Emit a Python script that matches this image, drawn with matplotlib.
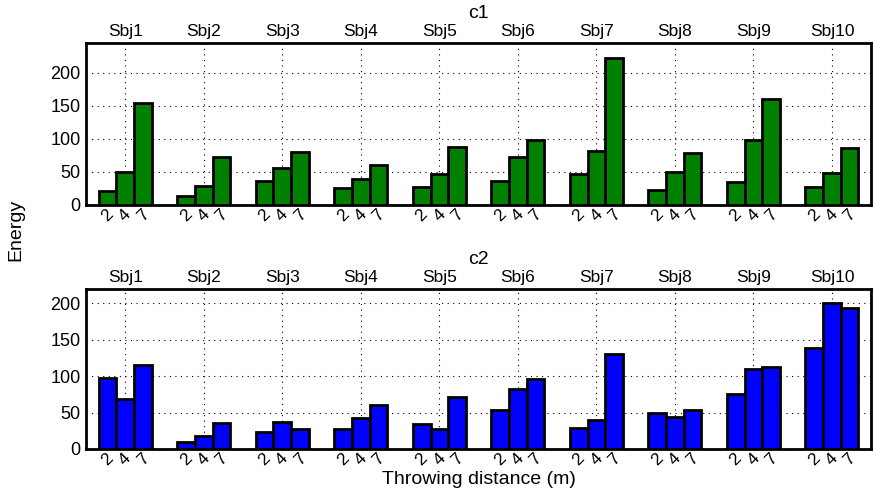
import matplotlib.pyplot as plt
import numpy as np

plt.rcParams['font.family'] = ['Liberation Sans', 'DejaVu Sans']

subjects = ['Sbj1', 'Sbj2', 'Sbj3', 'Sbj4', 'Sbj5', 'Sbj6', 'Sbj7', 'Sbj8', 'Sbj9', 'Sbj10']
distances = ['2', '4', '7']

# energy per subject, for distances 2, 4, 7 m
c1_d2 = [21, 14, 36, 25, 27, 36, 47, 23, 34, 27]
c1_d4 = [50, 29, 56, 39, 47, 72, 81, 50, 98, 49]
c1_d7 = [154, 73, 80, 61, 87, 98, 222, 79, 161, 86]

c2_d2 = [98, 9, 23, 27, 34, 54, 29, 50, 76, 138]
c2_d4 = [69, 18, 37, 42, 28, 82, 40, 44, 109, 200]
c2_d7 = [115, 35, 28, 60, 71, 96, 130, 54, 113, 194]

panels = [('c1', [c1_d2, c1_d4, c1_d7], 'green', 245),
          ('c2', [c2_d2, c2_d4, c2_d7], 'blue', 219)]
positions = [[0.0985, 0.586, 0.8995, 0.327],
             [0.0985, 0.093, 0.8995, 0.3226]]

fig = plt.figure(figsize=(8.73, 4.95), dpi=100)
width = 0.225
centers = np.arange(1, len(subjects) + 1)

for (name, series, color, ymax), pos in zip(panels, positions):
    ax = fig.add_axes(pos)
    ticks = []
    labels = []
    for i, vals in enumerate(series):
        x = centers + (i - 1) * width
        ax.bar(x, vals, width=width, color=color, edgecolor='black', linewidth=2, zorder=3)
        ticks.extend(x)
        labels.extend([distances[i]] * len(subjects))
    ax.set_xlim(0.5, len(subjects) + 0.5)
    ax.set_ylim(0, ymax)
    ax.set_yticks([0, 50, 100, 150, 200])
    ax.set_xticks(ticks)
    ax.set_xticklabels(labels, rotation=45, fontsize=12.5, ha='center', va='top')
    ax.tick_params(axis='x', length=0, pad=1)
    ax.tick_params(axis='y', length=0, labelsize=13, pad=4)
    ax.yaxis.grid(True, linestyle=(0, (1, 4)), color='black', linewidth=0.8, zorder=0)
    for c in centers:
        ax.axvline(c, linestyle=(0, (1, 4)), color='black', linewidth=0.8, zorder=0)
    top = ax.secondary_xaxis('top')
    top.set_xticks(centers)
    top.set_xticklabels(subjects, fontsize=12.5)
    top.tick_params(length=0, pad=3)
    for s in ax.spines.values():
        s.set_linewidth(2)
    ax.set_title(name, fontsize=14, pad=18)

fig.text(0.018, 0.535, 'Energy', rotation=90, va='center', ha='center', fontsize=14)
fig.text(0.549, 0.031, 'Throwing distance (m)', va='center', ha='center', fontsize=14)

plt.savefig('out.png')
